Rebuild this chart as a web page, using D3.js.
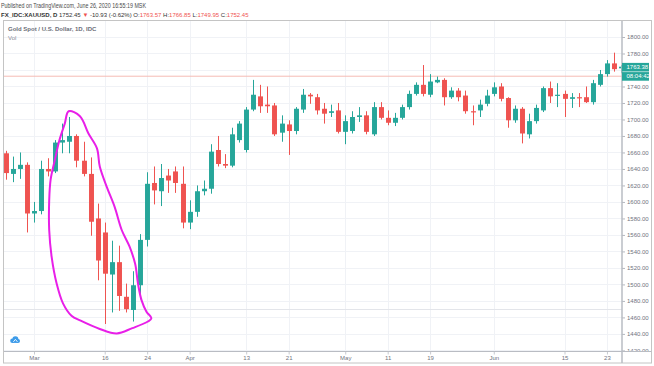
<!DOCTYPE html>
<html>
<head>
<meta charset="utf-8">
<script src="https://cdn.jsdelivr.net/npm/d3@7"></script>
<style>
  body { margin: 0; background: #fff; }
  svg { display: block; font-family: "Liberation Sans", Arial, sans-serif; }
</style>
</head>
<body>
<div id="container"></div>
<script>
/* Constants and globals */
const width = 654,
    height = 366,
    plot = {left: 4, right: 622, top: 21, bottom: 351.5};

const upColor = "#26a69a",
    downColor = "#ef5350";

/* DATA - daily XAUUSD bars */
const dates = [
  "2020-02-25","2020-02-26","2020-02-27","2020-02-28",
  "2020-03-02","2020-03-03","2020-03-04","2020-03-05","2020-03-06","2020-03-09","2020-03-10","2020-03-11",
  "2020-03-12","2020-03-13","2020-03-16","2020-03-17","2020-03-18","2020-03-19","2020-03-20","2020-03-23",
  "2020-03-24","2020-03-25","2020-03-26","2020-03-27","2020-03-30","2020-03-31",
  "2020-04-01","2020-04-02","2020-04-03","2020-04-06","2020-04-07","2020-04-08","2020-04-09","2020-04-10",
  "2020-04-13","2020-04-14","2020-04-15","2020-04-16","2020-04-17","2020-04-20","2020-04-21","2020-04-22",
  "2020-04-23","2020-04-24","2020-04-27","2020-04-28","2020-04-29","2020-04-30",
  "2020-05-01","2020-05-04","2020-05-05","2020-05-06","2020-05-07","2020-05-08","2020-05-11","2020-05-12",
  "2020-05-13","2020-05-14","2020-05-15","2020-05-18","2020-05-19","2020-05-20","2020-05-21","2020-05-22",
  "2020-05-25","2020-05-26","2020-05-27","2020-05-28","2020-05-29",
  "2020-06-01","2020-06-02","2020-06-03","2020-06-04","2020-06-05","2020-06-08","2020-06-09","2020-06-10",
  "2020-06-11","2020-06-12","2020-06-15","2020-06-16","2020-06-17","2020-06-18","2020-06-19","2020-06-22",
  "2020-06-23","2020-06-24","2020-06-25"
];

const opens = [
  1659,1634,1640,1645,
  1586,1589,1640,1637,1672,1673,1680,1650,1634,1580,1563,1512,1527,1485,1469,1499,1554,1623,1613,1632,1637,1622,
  1575,1588,1613,1616,1663,1646,1644,1675,1663,1712,1728,1718,1717,1684,1694,1686,1712,1730,1727,1713,1708,1711,
  1685,1686,1703,1705,1682,1715,1702,1696,1702,1715,1731,1742,1730,1745,1748,1727,1735,1729,1710,1711,1719,
  1731,1740,1726,1699,1713,1682,1698,1711,1738,1729,1731,1725,1727,1727,1721,1742,1755,1768,1762
];
const highs = [
  1662,1655,1660,1648,
  1600,1650,1653,1675,1695,1703,1682,1673,1654,1598,1575,1553,1547,1501,1516,1561,1636,1643,1646,1640,1643,1643,
  1602,1620,1626,1670,1680,1658,1690,1698,1715,1748,1742,1740,1720,1705,1699,1715,1737,1732,1731,1720,1718,1720,
  1705,1710,1715,1710,1721,1721,1711,1708,1718,1735,1745,1766,1755,1752,1750,1739,1738,1735,1717,1724,1736,
  1745,1744,1727,1717,1715,1707,1718,1740,1746,1744,1735,1732,1732,1740,1748,1760,1772,1781,1766
];
const lows = [
  1627,1624,1628,1563,
  1575,1585,1631,1635,1659,1659,1642,1631,1559,1505,1452,1466,1468,1466,1455,1482,1546,1597,1595,1611,1611,1568,
  1567,1582,1608,1610,1643,1641,1642,1672,1660,1710,1708,1708,1680,1673,1657,1682,1708,1719,1706,1695,1703,1683,
  1670,1683,1697,1682,1680,1700,1693,1692,1700,1712,1729,1728,1727,1744,1717,1725,1722,1707,1693,1703,1716,
  1728,1722,1690,1696,1671,1677,1695,1709,1720,1715,1703,1714,1715,1720,1718,1740,1752,1758,1756
];
const closes = [
  1635,1640,1645,1586,
  1589,1640,1637,1672,1675,1680,1650,1634,1576,1529,1513,1527,1486,1470,1499,1554,1622,1614,1629,1626,1623,1575,
  1588,1613,1616,1661,1646,1644,1682,1695,1712,1730,1716,1716,1682,1695,1686,1713,1730,1728,1711,1707,1710,1685,
  1698,1703,1705,1685,1715,1702,1696,1702,1715,1731,1742,1731,1746,1748,1727,1735,1727,1710,1709,1718,1729,
  1739,1725,1699,1713,1683,1698,1714,1738,1728,1730,1725,1727,1726,1721,1744,1755,1768,1761,1764
];

/* axis ticks */
const priceTicks = d3.range(1420, 1801, 20);
const tickDates = ["2020-03-02","2020-03-16","2020-03-24","2020-04-01","2020-04-13","2020-04-21",
                   "2020-05-01","2020-05-11","2020-05-19","2020-06-01","2020-06-15","2020-06-23"];
const tickLabels = ["Mar","16","24","Apr","13","21","May","11","19","Jun","15","23"];

/* last price + countdown */
const lastPrice = 1763.38,
    lastClose = 1752.45,
    countdown = "08:04:42";

/* hand drawn loop around the March drop: [bar index, price] */
const loopPoints = [
  [8.9,1710],[10.5,1704],[11.7,1683],[12.9,1665],[13.3,1643],[14.3,1618],[15.4,1594],[16.4,1566],
  [17.5,1546],[18.3,1525],[18.7,1501],[19.2,1481],[19.9,1467],[20.6,1459],[20.1,1455],[17.9,1447],
  [15.7,1440.5],[13.3,1446],[10.6,1456],[9.3,1462],[8.1,1477],[7.2,1501],[6.5,1533],[6.15,1566],
  [6.15,1602],[6.35,1627],[6.95,1651],[7.6,1675],[8.35,1695]
];

const bars = dates.map((d, i) => ({date: d, o: opens[i], h: highs[i], l: lows[i], c: closes[i]}));

/* SCALES */
const xScale = d3.scalePoint()
  .domain(dates)
  .range([5.7, 621.1]);

const yScale = d3.scaleLinear()
  .domain([1420, 1800])
  .range([350.4, 37]);

const bodyW = xScale.step() * 0.7;

/* SVG */
const svg = d3.select("#container")
  .append("svg")
  .attr("width", width)
  .attr("height", height);

const defs = svg.append("defs");
defs.append("clipPath").attr("id", "plotClip")
  .append("rect")
  .attr("x", plot.left).attr("y", plot.top)
  .attr("width", plot.right - plot.left).attr("height", plot.bottom - plot.top);
// clip for the price axis, in the axis group's own coordinates
defs.append("clipPath").attr("id", "axisClip")
  .append("rect").attr("x", 0).attr("y", plot.top)
  .attr("width", 30).attr("height", plot.bottom - plot.top);

// header
const head = svg.append("g");
head.append("text").attr("x", 1).attr("y", 7.5).attr("font-size", 6.5).attr("fill", "#4a4a4a")
  .attr("textLength", 145).attr("lengthAdjust", "spacingAndGlyphs")
  .text("Published on TradingView.com, June 26, 2020 16:55:19 MSK");
const l2 = head.append("text").attr("x", 1).attr("y", 16.5).attr("font-size", 6).attr("fill", "#333");
l2.append("tspan").attr("font-weight", "bold").text("FX_IDC:XAUUSD, D ");
l2.append("tspan").text("1752.45 ");
l2.append("tspan").attr("fill", downColor).text("\u25BC");
l2.append("tspan").text(" -10.93 (-0.62%) O:");
l2.append("tspan").attr("fill", downColor).text("1763.57");
l2.append("tspan").text(" H:");
l2.append("tspan").attr("fill", downColor).text("1766.85");
l2.append("tspan").text(" L:");
l2.append("tspan").attr("fill", downColor).text("1749.95");
l2.append("tspan").text(" C:");
l2.append("tspan").attr("fill", downColor).text("1752.45");

// frame
svg.append("rect")
  .attr("x", 3.5).attr("y", 20.5)
  .attr("width", 648).attr("height", 342.5)
  .attr("fill", "#fff")
  .attr("stroke", "#c4c4c4");

// grid
const grid = svg.append("g").attr("clip-path", "url(#plotClip)");
grid.selectAll(".hgrid")
  .data(priceTicks)
  .join("line")
  .attr("class", "hgrid")
  .attr("x1", plot.left).attr("x2", plot.right)
  .attr("y1", d => Math.round(yScale(d)) + 0.5)
  .attr("y2", d => Math.round(yScale(d)) + 0.5)
  .attr("stroke", "#f0f2f6");
grid.selectAll(".vgrid")
  .data(tickDates)
  .join("line")
  .attr("class", "vgrid")
  .attr("x1", d => Math.round(xScale(d)) + 0.5)
  .attr("x2", d => Math.round(xScale(d)) + 0.5)
  .attr("y1", plot.top).attr("y2", plot.bottom)
  .attr("stroke", "#f0f2f6");

// volume pane separator
grid.append("line")
  .attr("x1", plot.left).attr("x2", plot.right)
  .attr("y1", Math.round(yScale(1470)) + 0.5)
  .attr("y2", Math.round(yScale(1470)) + 0.5)
  .attr("stroke", "#e3e5ea");

// legend in the pane
svg.append("text").attr("x", 8).attr("y", 31).attr("font-size", 6)
  .attr("font-weight", "bold").attr("fill", "#6b6e78")
  .text("Gold Spot / U.S. Dollar, 1D, IDC");
svg.append("text").attr("x", 8).attr("y", 39.5).attr("font-size", 6)
  .attr("fill", "#8a8d96").text("Vol");

// price line
grid.append("line")
  .attr("x1", plot.left).attr("x2", plot.right)
  .attr("y1", yScale(lastClose)).attr("y2", yScale(lastClose))
  .attr("stroke", "#f5bcb4");

// candles
const candles = svg.append("g").attr("clip-path", "url(#plotClip)")
  .selectAll(".bar")
  .data(bars)
  .join("g")
  .attr("class", "bar")
  .attr("fill", d => d.c >= d.o ? upColor : downColor)
  .attr("stroke", d => d.c >= d.o ? upColor : downColor);

candles.append("line")
  .attr("x1", d => Math.round(xScale(d.date)) + 0.5)
  .attr("x2", d => Math.round(xScale(d.date)) + 0.5)
  .attr("y1", d => yScale(d.h))
  .attr("y2", d => yScale(d.l))
  .attr("stroke-width", 1);

candles.append("rect")
  .attr("x", d => Math.round(xScale(d.date)) + 0.5 - bodyW / 2)
  .attr("width", bodyW)
  .attr("y", d => yScale(Math.max(d.o, d.c)))
  .attr("height", d => Math.max(1.2, Math.abs(yScale(d.o) - yScale(d.c))))
  .attr("stroke", "none");

// hand drawn loop
const loopLine = d3.line()
  .x(d => xScale(dates[0]) + d[0] * xScale.step())
  .y(d => yScale(d[1]))
  .curve(d3.curveCatmullRomClosed);

svg.append("path")
  .datum(loopPoints)
  .attr("d", loopLine)
  .attr("fill", "none")
  .attr("stroke", "#e81fe8")
  .attr("stroke-width", 2)
  .attr("stroke-linejoin", "round");

// axes
const yAxis = d3.axisRight(yScale)
  .tickValues(priceTicks)
  .tickFormat(d3.format(".2f"))
  .tickSize(3)
  .tickPadding(2);

const yG = svg.append("g")
  .attr("transform", `translate(${plot.right},0)`)
  .attr("clip-path", "url(#axisClip)")
  .call(yAxis);
yG.select(".domain").remove();
yG.selectAll("text").attr("font-size", 6).attr("fill", "#707380")
  .attr("font-family", "Liberation Sans, Arial, sans-serif");
yG.selectAll("line").attr("stroke", "#b5b8c0");
// the 1760 label sits under the last price box
yG.selectAll(".tick").filter(d => Math.abs(yScale(d) - yScale(lastPrice)) < 9)
  .select("text").remove();

const xAxis = d3.axisBottom(xScale)
  .tickValues(tickDates)
  .tickFormat((d, i) => tickLabels[i])
  .tickSize(3)
  .tickPadding(1.5);

const xG = svg.append("g")
  .attr("transform", `translate(0,${plot.bottom})`)
  .call(xAxis);
xG.select(".domain").remove();
xG.selectAll("text").attr("font-size", 6).attr("fill", "#707380")
  .attr("font-family", "Liberation Sans, Arial, sans-serif");
xG.selectAll("line").attr("stroke", "#c8cad0");

// axis borders
svg.append("line")
  .attr("x1", 4).attr("x2", 651.5)
  .attr("y1", plot.bottom).attr("y2", plot.bottom)
  .attr("stroke", "#b9bcc3").attr("stroke-width", 1.2);
svg.append("line")
  .attr("x1", plot.right).attr("x2", plot.right)
  .attr("y1", plot.top).attr("y2", 363)
  .attr("stroke", "#b9bcc3").attr("stroke-width", 1.5);

// last price label + countdown
const lp = svg.append("g").attr("transform", `translate(${plot.right},${yScale(lastPrice)})`);
lp.append("rect").attr("x", 0).attr("y", -4.3).attr("width", 27).attr("height", 8.6).attr("fill", upColor);
lp.append("rect").attr("x", 0).attr("y", 4.9).attr("width", 27).attr("height", 8.6).attr("fill", upColor);
lp.append("text").attr("x", 4.5).attr("y", 2.1).attr("font-size", 6).attr("fill", "#fff").text(d3.format(".2f")(lastPrice));
lp.append("text").attr("x", 4.5).attr("y", 11.3).attr("font-size", 6).attr("fill", "#fff").text(countdown);

// tv logo
const logo = svg.append("g").attr("transform", "translate(15,340)").attr("fill", "#3d9be9");
logo.append("circle").attr("cx", -2.6).attr("cy", 0.8).attr("r", 2.2);
logo.append("circle").attr("cx", 0.4).attr("cy", -0.8).attr("r", 3);
logo.append("circle").attr("cx", 3).attr("cy", 0.9).attr("r", 2);
logo.append("rect").attr("x", -2.6).attr("y", 0.5).attr("width", 5.6).attr("height", 2.4);
logo.append("path").attr("d", "M-1.6,1.8 L0.4,-0.6 L2.4,1.8").attr("fill", "none").attr("stroke", "#fff").attr("stroke-width", 0.9);
</script>
</body>
</html>
